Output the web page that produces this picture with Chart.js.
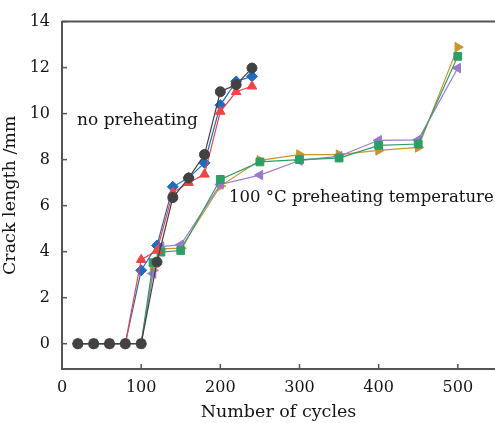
<!DOCTYPE html>
<html>
<head>
<meta charset="utf-8">
<script src="https://cdn.jsdelivr.net/npm/chart.js@4/dist/chart.umd.min.js"></script>
<style>
  html, body { margin: 0; padding: 0; background: #fff; }
  #wrap { width: 495px; height: 423px; }
</style>
</head>
<body>
<div id="wrap"><canvas id="crackChart" width="495" height="423"></canvas></div>
<script>
// cycles for the two groups
var cyclesNoPre = [20, 40, 60, 80, 100, 120, 140, 160, 180, 200, 220, 240];
var cyclesPre = [20, 40, 60, 80, 100, 115, 125, 150, 200, 250, 300, 350, 400, 450, 500];

// no preheating (crack length, mm)
var noPreCircle = [0, 0, 0, 0, 0, 3.55, 6.35, 7.2, 8.22, 10.95, 11.26, 11.98];
var noPreTriangle = [0, 0, 0, 0, 3.65, 4.05, 6.57, 7.0, 7.36, 10.09, 10.95, 11.19];
var noPreDiamond = [0, 0, 0, 0, 3.19, 4.27, 6.82, 7.21, 7.86, 10.37, 11.4, 11.62];

// 100 °C preheating temperature
var preSquare = [0, 0, 0, 0, 0, 3.52, 3.98, 4.05, 7.14, 7.9, 8.0, 8.07, 8.62, 8.68, 12.49];
var preLeft = [0, 0, 0, 0, 0, 3.05, 4.22, 4.3, 6.92, 7.33, 7.96, 8.15, 8.84, 8.86, 11.98];
var preRight = [0, 0, 0, 0, 0, 3.19, 4.12, 4.15, 6.85, 7.97, 8.22, 8.22, 8.4, 8.53, 12.89];

var xTicks = [0, 100, 200, 300, 400, 500];
var yTicks = [0, 2, 4, 6, 8, 10, 12, 14];

var serif = '"DejaVu Serif", "Liberation Serif", serif';
var ink = '#141414';

function pts(xs, ys) {
    return xs.map(function (x, i) { return { x: x, y: ys[i] }; });
}

function series(xs, ys, color, style, rot) {
    return {
        data: pts(xs, ys),
        borderColor: color,
        backgroundColor: color,
        borderWidth: 1.2,
        pointStyle: style,
        pointRotation: rot || 0,
        pointRadius: style === 'circle' ? 5 : 5.5,
        pointBorderWidth: 1,
        pointBorderColor: color,
        pointBackgroundColor: color,
        tension: 0
    };
}

// frame top line, inward ticks and the two text notes
var framePlugin = {
    id: 'frame',
    afterDraw: function (chart) {
        var c = chart.ctx, a = chart.chartArea;
        var sx = chart.scales.x, sy = chart.scales.y;
        c.save();
        c.strokeStyle = '#555';
        c.lineWidth = 2;
        c.beginPath();
        c.moveTo(a.left, a.top);
        c.lineTo(a.right, a.top);
        c.stroke();
        c.lineWidth = 1.5;
        yTicks.forEach(function (v) {
            var py = sy.getPixelForValue(v);
            c.beginPath();
            c.moveTo(a.left, py);
            c.lineTo(a.left + 5, py);
            c.stroke();
        });
        xTicks.forEach(function (v) {
            var px = sx.getPixelForValue(v);
            c.beginPath();
            c.moveTo(px, a.bottom);
            c.lineTo(px, a.bottom - 5);
            c.stroke();
        });
        c.fillStyle = ink;
        c.textBaseline = 'middle';
        c.textAlign = 'left';
        c.font = '17px ' + serif;
        c.fillText('no preheating', sx.getPixelForValue(19), sy.getPixelForValue(9.7));
        c.font = '16.5px ' + serif;
        c.fillText('100 \u00B0C preheating temperature', sx.getPixelForValue(211), sy.getPixelForValue(6.35));
        c.restore();
    }
};

var ctx = document.getElementById('crackChart').getContext('2d');
var crackChart = new Chart(ctx, {
    type: 'line',
    data: {
        datasets: [
            series(cyclesNoPre, noPreCircle, '#424242', 'circle'),
            series(cyclesNoPre, noPreTriangle, '#f04545', 'triangle'),
            series(cyclesNoPre, noPreDiamond, '#1f6cc4', 'rectRot'),
            series(cyclesPre, preSquare, '#2e9e68', 'rect'),
            series(cyclesPre, preLeft, '#9a78d0', 'triangle', -90),
            series(cyclesPre, preRight, '#c8952c', 'triangle', 90)
        ]
    },
    options: {
        responsive: false,
        animation: false,
        layout: { autoPadding: false, padding: { top: 19, right: 0, left: 0, bottom: 0 } },
        plugins: { legend: { display: false }, tooltip: { enabled: false } },
        scales: {
            x: {
                type: 'linear',
                min: 0,
                max: 547,
                afterBuildTicks: function (s) { s.ticks = xTicks.map(function (v) { return { value: v }; }); },
                afterFit: function (s) { s.height = 54; s.paddingLeft = 0; s.paddingRight = 0; },
                grid: { display: false, drawTicks: false },
                border: { display: true, color: '#555', width: 2 },
                ticks: { padding: 9, color: ink, font: { family: serif, size: 16 }, maxRotation: 0 },
                title: { display: true, text: 'Number of cycles', color: ink, font: { family: serif, size: 17.5 }, padding: { top: 0, bottom: 0 } }
            },
            y: {
                type: 'linear',
                min: -1.1,
                max: 14,
                afterBuildTicks: function (s) { s.ticks = yTicks.map(function (v) { return { value: v }; }); },
                afterFit: function (s) { s.width = 62; },
                grid: { display: false, drawTicks: false },
                border: { display: true, color: '#555', width: 2 },
                ticks: { padding: 12, color: ink, font: { family: serif, size: 16 } },
                title: { display: true, text: 'Crack length /mm', color: ink, font: { family: serif, size: 17.5 }, padding: { top: 0, bottom: 1 } }
            }
        }
    },
    plugins: [framePlugin]
});
</script>
</body>
</html>
